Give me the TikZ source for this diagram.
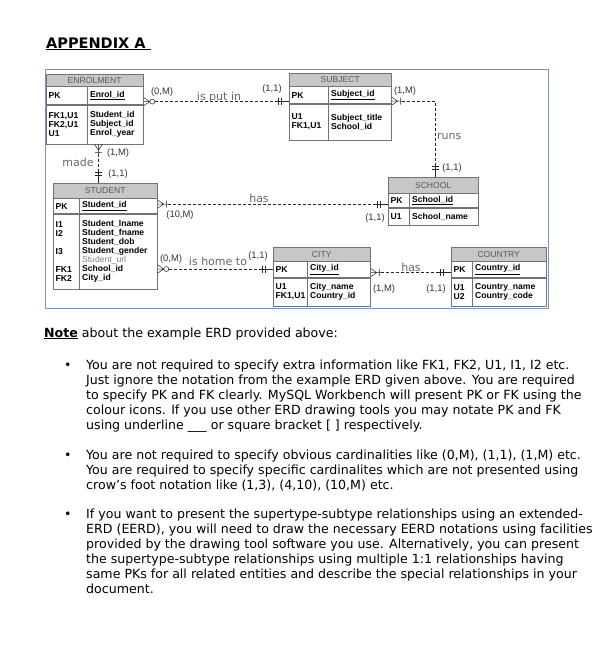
\documentclass[tikz,border=0pt]{standalone}
\usepackage{fontspec}
\setmainfont{DejaVu Sans}
\newfontfamily\tabfont{Liberation Sans}
\usetikzlibrary{positioning}
\definecolor{framecol}{RGB}{120,145,200}

\begin{document}
\begin{tikzpicture}[x=1pt,y=-1pt,ehead/.style={draw=black!55, fill=black!22, text=black!65, font=\tabfont\fontsize{8.6}{9}\selectfont, inner sep=0pt, anchor=north west},ecell/.style={draw=black!55, fill=white, font=\tabfont\bfseries\fontsize{8.6}{9}\selectfont, align=left, inner xsep=2.5pt, inner ysep=0pt, anchor=north west},rel/.style={draw=black!85, line width=0.5pt, dash pattern=on 3pt off 2pt},card/.style={font=\tabfont\fontsize{9.4}{10}\selectfont, text=black!80, inner sep=0pt},rlab/.style={font=\fontsize{11}{12}\selectfont, text=black!60, inner sep=0pt},body/.style={font=\fontsize{12.6}{15}\selectfont, align=left, inner sep=0pt, anchor=base west},zeromany/.pic={\draw[black!85, line width=0.5pt] (0,-4) -- (6,0) -- (0,4) (0,0) -- (6,0) (8.5,0) circle (2.5pt);},onemany/.pic={\draw[black!85, line width=0.5pt] (0,-4) -- (6,0) -- (0,4) (0,0) -- (10,0) (8.5,-3.5) -- (8.5,3.5);},oneone/.pic={\draw[black!85, line width=0.5pt] (0,0) -- (12,0) (8,-3.5) -- (8,3.5) (11,-3.5) -- (11,3.5);}]
\useasboundingbox (0,0) rectangle (607,648);
\node[font=\bfseries\fontsize{14.5}{16}\selectfont, inner sep=0pt, anchor=base west] (title) at (46,48) {\underline{APPENDIX A\ }};
\draw[framecol, line width=0.9pt] (45,69) rectangle (548,308);
% ENROLMENT
\node[ehead, minimum width=97, minimum height=12] (enrol) at (46,74) {ENROLMENT};
\node[ecell, text width=36, minimum height=18] (enrolPK) at (enrol.south west) {PK};
\node[ecell, text width=51, minimum height=18] (enrolId) at (enrolPK.north east) {\underline{Enrol\_id}};
\node[ecell, text width=36, minimum height=39] (enrolFK) at (enrolPK.south west) {FK1,U1\\FK2,U1\\U1};
\node[ecell, text width=51, minimum height=39] (enrolAttr) at (enrolFK.north east) {Student\_id\\Subject\_id\\Enrol\_year};
% SUBJECT
\node[ehead, minimum width=102, minimum height=13] (subject) at (289,73) {SUBJECT};
\node[ecell, text width=34, minimum height=17] (subjPK) at (subject.south west) {PK};
\node[ecell, text width=58, minimum height=17] (subjId) at (subjPK.north east) {\underline{Subject\_id}};
\node[ecell, text width=34, minimum height=36] (subjFK) at (subjPK.south west) {U1\\FK1,U1};
\node[ecell, text width=58, minimum height=36] (subjAttr) at (subjFK.north east) {Subject\_title\\School\_id};
% STUDENT
\node[ehead, minimum width=104, minimum height=15] (student) at (53,183) {STUDENT};
\node[ecell, text width=21, minimum height=15] (studPK) at (student.south west) {PK};
\node[ecell, text width=73, minimum height=15] (studId) at (studPK.north east) {\underline{Student\_id}};
\node[ecell, text width=21, minimum height=75] (studFK) at (studPK.south west) {I1\\I2\\\mbox{}\\I3\\\mbox{}\\FK1\\FK2};
\node[ecell, text width=73, minimum height=75] (studAttr) at (studFK.north east) {Student\_lname\\Student\_fname\\Student\_dob\\Student\_gender\\{\mdseries\color{black!50}Student\_url}\\School\_id\\City\_id};
% SCHOOL
\node[ehead, minimum width=90, minimum height=16] (school) at (388,177) {SCHOOL};
\node[ecell, text width=16, minimum height=14] (schoolPK) at (school.south west) {PK};
\node[ecell, text width=64, minimum height=14] (schoolId) at (schoolPK.north east) {\underline{School\_id}};
\node[ecell, text width=16, minimum height=17] (schoolU) at (schoolPK.south west) {U1};
\node[ecell, text width=64, minimum height=17] (schoolAttr) at (schoolU.north east) {School\_name};
% CITY
\node[ehead, minimum width=97, minimum height=14] (city) at (273,247) {CITY};
\node[ecell, text width=29, minimum height=16] (cityPK) at (city.south west) {PK};
\node[ecell, text width=58, minimum height=16] (cityId) at (cityPK.north east) {\underline{City\_id}};
\node[ecell, text width=29, minimum height=28] (cityFK) at (cityPK.south west) {U1\\FK1,U1};
\node[ecell, text width=58, minimum height=28] (cityAttr) at (cityFK.north east) {City\_name\\Country\_id};
% COUNTRY
\node[ehead, minimum width=95, minimum height=14] (country) at (451,247) {COUNTRY};
\node[ecell, text width=16, minimum height=16] (countryPK) at (country.south west) {PK};
\node[ecell, text width=69, minimum height=16] (countryId) at (countryPK.north east) {\underline{Country\_id}};
\node[ecell, text width=16, minimum height=28] (countryU) at (countryPK.south west) {U1\\U2};
\node[ecell, text width=69, minimum height=28] (countryAttr) at (countryU.north east) {Country\_name\\Country\_code};
% relationships
\draw[rel, shorten <=11pt, shorten >=11pt] ([yshift=-6pt]enrolId.east) -- ([yshift=-6pt]enrolId.east -| subjPK.west);
\pic at ([yshift=-6pt]enrolId.east) {zeromany};\pic[rotate=180] at ([yshift=-6pt]enrolId.east -| subjPK.west) {oneone};
\draw[rel, shorten <=10pt, shorten >=11pt] ([xshift=11pt]enrolFK.south east) -- ([xshift=11pt]enrolFK.south east |- student.north);
\pic[rotate=-90] at ([xshift=11pt]enrolFK.south east) {onemany};\pic[rotate=90] at ([xshift=11pt]enrolFK.south east |- student.north) {oneone};
\draw[rel, shorten <=10pt, shorten >=11pt] ([yshift=-6pt]subjId.east) -| ([xshift=2pt]school.north);
\pic at ([yshift=-6pt]subjId.east) {onemany};\pic[rotate=90] at ([xshift=2pt]school.north) {oneone};
\draw[rel, shorten <=10pt, shorten >=11pt] ([yshift=2pt]studId.east) -- ([yshift=2pt]studId.east -| schoolPK.west);
\pic at ([yshift=2pt]studId.east) {onemany};\pic[rotate=180] at ([yshift=2pt]studId.east -| schoolPK.west) {oneone};
\draw[rel, shorten <=11pt, shorten >=11pt] ([yshift=-17.5pt]studAttr.east) -- ([yshift=-17.5pt]studAttr.east -| cityPK.west);
\pic at ([yshift=-17.5pt]studAttr.east) {zeromany};\pic[rotate=180] at ([yshift=-17.5pt]studAttr.east -| cityPK.west) {oneone};
\draw[rel, shorten <=10pt, shorten >=11pt] ([yshift=-3pt]cityId.east) -- ([yshift=-3pt]cityId.east -| countryPK.west);
\pic at ([yshift=-3pt]cityId.east) {onemany};\pic[rotate=180] at ([yshift=-3pt]cityId.east -| countryPK.west) {oneone};
% labels
\node[card] (putM) at (162,92) {(0,M)};\node[card] (putOne) at (272,89) {(1,1)};\node[rlab, anchor=base] (putL) at (219,100) {is put in};
\node[card] (madeM) at (118,153) {(1,M)};\node[rlab, anchor=base] (madeL) at (78,166) {made};\node[card] (madeOne) at (118,174) {(1,1)};
\node[card] (runsM) at (405,91) {(1,M)};\node[rlab, anchor=base west] (runsL) at (437,139) {runs};\node[card] (runsOne) at (452,168) {(1,1)};
\node[card] (hasM) at (180,215) {(10,M)};\node[rlab, anchor=base] (hasL) at (259,202) {has};\node[card] (hasOne) at (375,218) {(1,1)};
\node[card] (homeM) at (171,259) {(0,M)};\node[rlab, anchor=base] (homeL) at (218,265) {is home to};\node[card] (homeOne) at (258,256) {(1,1)};
\node[card] (ctryM) at (384,289) {(1,M)};\node[rlab, anchor=base] (ctryL) at (411,271) {has};\node[card] (ctryOne) at (436,289) {(1,1)};
% notes (base anchor = last line)
\node[body] (note) at (44,337) {\textbf{\underline{Note}} about the example ERD provided above:};
\node[body] (dot1) at (64,369) {•};\node[body] (item1) at (86,429) {You are not required to specify extra information like FK1, FK2, U1, I1, I2 etc.\\Just ignore the notation from the example ERD given above. You are required\\to specify PK and FK clearly. MySQL Workbench will present PK or FK using the\\colour icons. If you use other ERD drawing tools you may notate PK and FK\\using underline \_\_\_ or square bracket [ ] respectively.};
\node[body] (dot2) at (64,459) {•};\node[body] (item2) at (86,489) {You are not required to specify obvious cardinalities like (0,M), (1,1), (1,M) etc.\\You are required to specify specific cardinalites which are not presented using\\crow’s foot notation like (1,3), (4,10), (10,M) etc.};
\node[body] (dot3) at (64,518) {•};\node[body] (item3) at (86,593) {If you want to present the supertype-subtype relationships using an extended-\\ERD (EERD), you will need to draw the necessary EERD notations using facilities\\provided by the drawing tool software you use. Alternatively, you can present\\the supertype-subtype relationships using multiple 1:1 relationships having\\same PKs for all related entities and describe the special relationships in your\\document.};
\end{tikzpicture}
\end{document}
